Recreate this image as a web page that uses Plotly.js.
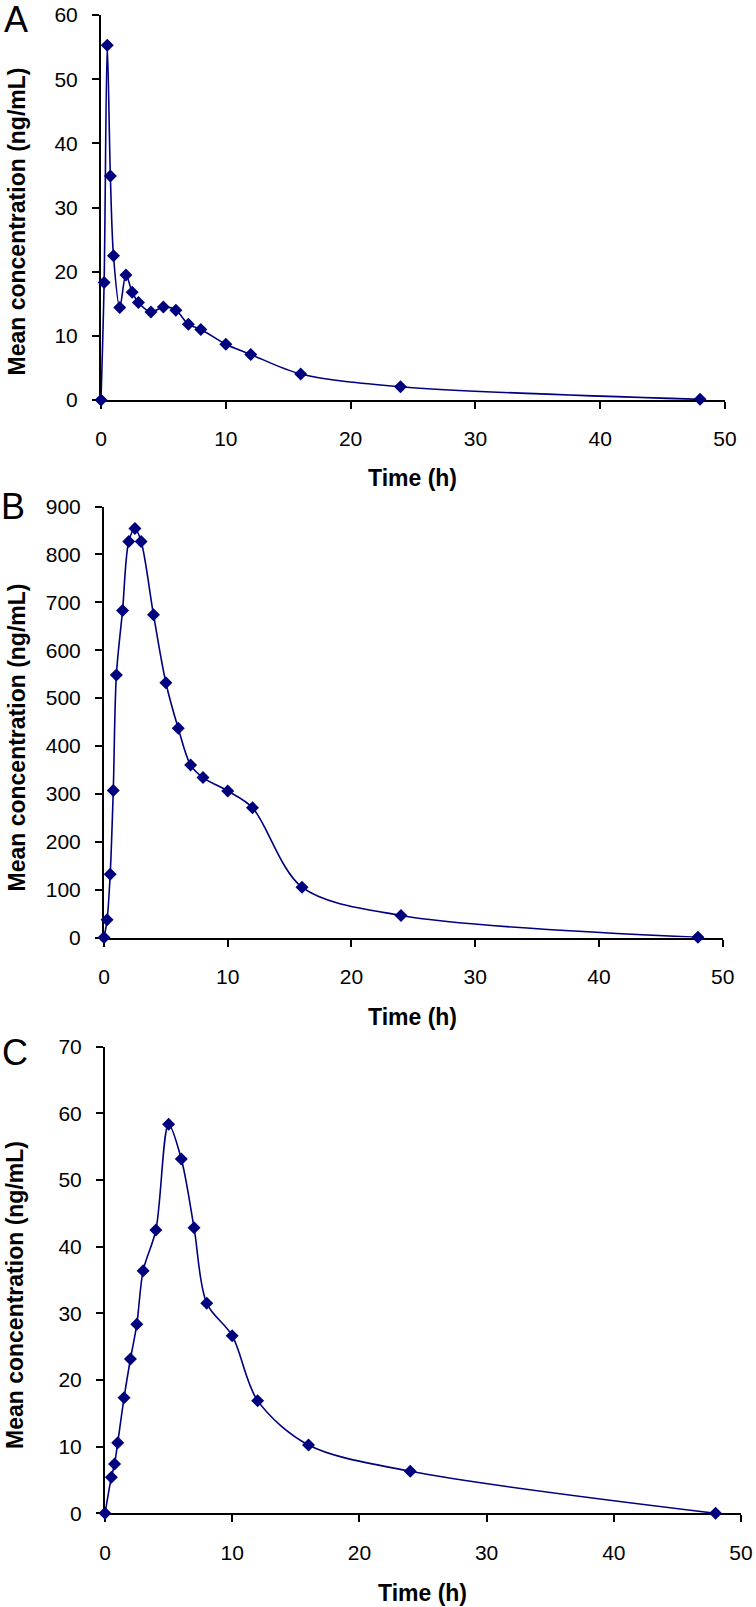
<!DOCTYPE html>
<html><head><meta charset="utf-8">
<script src="https://cdn.plot.ly/plotly-3.0.1.min.js"></script>
<style>html,body{margin:0;padding:0;background:#fff;} #chart{width:756px;height:1607px;}</style>
</head><body><div id="chart"></div>
<script>
// Sampling times (h)
const timeA = [0, 0.25, 0.5, 0.75, 1, 1.5, 2, 2.5, 3, 4, 5, 6, 7, 8, 10, 12, 16, 24, 48];
const timeB = [0, 0.25, 0.5, 0.75, 1, 1.5, 2, 2.5, 3, 4, 5, 6, 7, 8, 10, 12, 16, 24, 48];
const timeC = [0, 0.5, 0.75, 1, 1.5, 2, 2.5, 3, 4, 5, 6, 7, 8, 10, 12, 16, 24, 48];
// Mean concentrations (ng/mL)
const concA = [0, 18.3, 55.3, 34.9, 22.5, 14.4, 19.5, 16.8, 15.2, 13.7, 14.5, 14.0, 11.8, 11.0, 8.7, 7.1, 4.05, 2.07, 0.1];
const concB = [0, 37, 132, 307, 548, 683, 827, 854, 827, 674, 532, 437, 360, 334, 306, 271, 105, 46, 0.5];
const concC = [0, 5.4, 7.4, 10.6, 17.35, 23.15, 28.35, 36.4, 42.5, 58.35, 53.15, 42.85, 31.5, 26.65, 16.9, 10.25, 6.3, 0];
const panelLabels = ['A', 'B', 'C'];
const xTitle = 'Time (h)';
const yTitle = 'Mean concentration (ng/mL)';
const yRanges = [[0, 60], [0, 900], [0, 70]];
const yDticks = [10, 100, 10];

const W = 756, H = 1607;
const px = v => v / W;
const py = v => 1 - v / H;

// plot-area pixel boxes [left, right, top, bottom]
const boxes = [
  [101, 725, 15, 400],
  [104, 722.7, 506.5, 937.5],
  [105, 741, 1046.7, 1513.3]
];
const letterPos = [[16, 20], [13, 507], [15, 1052]];
const yTitlePos = [[16.5, 222], [16, 737.5], [15, 1295]];
const xTitlePos = [[412, 478], [412, 1017], [422, 1593]];

const NAVY = '#00007f';
const FONT = '"Liberation Sans", Arial, sans-serif';
const times = [timeA, timeB, timeC];
const concs = [concA, concB, concC];

const data = [0, 1, 2].map(i => ({
  type: 'scatter', mode: 'lines+markers',
  x: times[i], y: concs[i],
  xaxis: i === 0 ? 'x' : 'x' + (i + 1),
  yaxis: i === 0 ? 'y' : 'y' + (i + 1),
  line: {color: NAVY, width: 1.6, shape: 'spline', smoothing: 0.9},
  marker: {symbol: 'diamond', size: 10, color: NAVY, line: {width: 0}},
  cliponaxis: false, hoverinfo: 'x+y'
}));

const layout = {
  width: W, height: H,
  margin: {l: 0, r: 0, t: 0, b: 0},
  paper_bgcolor: '#ffffff', plot_bgcolor: '#ffffff',
  showlegend: false,
  font: {family: FONT, size: 21, color: '#000'},
  annotations: []
};

const axisCommon = {
  showgrid: false, zeroline: false, showline: true,
  linecolor: '#000', linewidth: 2,
  ticks: 'outside', ticklen: 7, tickwidth: 2, tickcolor: '#000',
  layer: 'below traces', fixedrange: true,
  tickfont: {family: FONT, size: 21, color: '#000'}
};

boxes.forEach((b, i) => {
  const xs = i === 0 ? 'xaxis' : 'xaxis' + (i + 1);
  const ys = i === 0 ? 'yaxis' : 'yaxis' + (i + 1);
  const xa = i === 0 ? 'x' : 'x' + (i + 1);
  const ya = i === 0 ? 'y' : 'y' + (i + 1);
  layout[xs] = Object.assign({}, axisCommon, {
    domain: [px(b[0]), px(b[1])], anchor: ya,
    range: [0, 50], dtick: 10, tick0: 0, ticklabelstandoff: 12
  });
  layout[ys] = Object.assign({}, axisCommon, {
    domain: [py(b[3]), py(b[2])], anchor: xa,
    range: yRanges[i], dtick: yDticks[i], tick0: 0, ticklabelstandoff: 10
  });
  layout.annotations.push({
    xref: 'paper', yref: 'paper', x: px(letterPos[i][0]), y: py(letterPos[i][1]),
    xanchor: 'center', yanchor: 'middle', showarrow: false, text: panelLabels[i],
    font: {family: FONT, size: 36, color: '#000'}
  });
  layout.annotations.push({
    xref: 'paper', yref: 'paper', x: px(yTitlePos[i][0]), y: py(yTitlePos[i][1]),
    xanchor: 'center', yanchor: 'middle', showarrow: false, text: '<b>' + yTitle + '</b>', textangle: -90,
    font: {family: FONT, size: 23, color: '#000'}
  });
  layout.annotations.push({
    xref: 'paper', yref: 'paper', x: px(xTitlePos[i][0]), y: py(xTitlePos[i][1]),
    xanchor: 'center', yanchor: 'middle', showarrow: false, text: '<b>' + xTitle + '</b>',
    font: {family: FONT, size: 23, color: '#000'}
  });
});

Plotly.newPlot('chart', data, layout, {staticPlot: true, displayModeBar: false});
</script>
</body></html>
